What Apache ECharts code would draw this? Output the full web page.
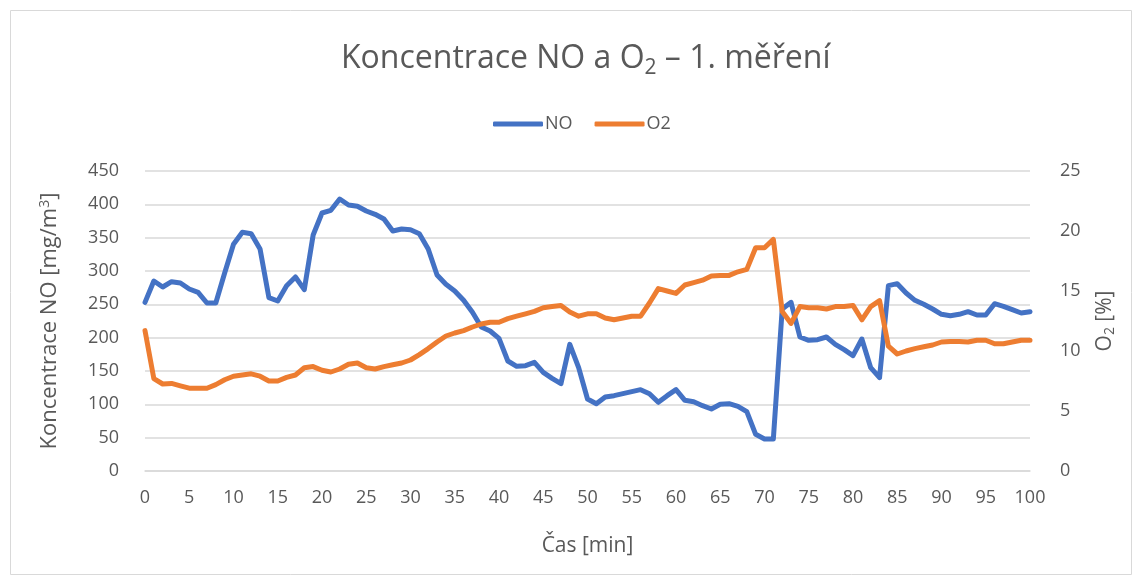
<!DOCTYPE html>
<html>
<head>
<meta charset="utf-8">
<script src="https://cdn.jsdelivr.net/npm/echarts@6/dist/echarts.min.js"></script>
<style>
html,body{margin:0;padding:0;background:#fff;}
#chart{width:1142px;height:582px;}
</style>
</head>
<body>
<div id="chart"></div>
<script>
const minutes = [0,1,2,3,4,5,6,7,8,9,10,11,12,13,14,15,16,17,18,19,20,21,22,23,24,25,26,27,28,29,30,31,32,33,34,35,36,37,38,39,40,41,42,43,44,45,46,47,48,49,50,51,52,53,54,55,56,57,58,59,60,61,62,63,64,65,66,67,68,69,70,71,72,73,74,75,76,77,78,79,80,81,82,83,84,85,86,87,88,89,90,91,92,93,94,95,96,97,98,99,100];

const noValues = [253,285,276,284,282,273,268,252,252,297,
  340,358,356,333,260,255,278,291,272,354,
  387,391,408,399,397,390,385,378,360,363,
  362,356,333,294,280,270,256,238,216,210,
  199,165,157,158,163,148,139,131,190,155,
  108,101,111,113,116,119,122,116,103,113,
  122,106,104,98,93,100,101,97,89,55,
  48,48,243,253,201,196,197,201,190,182,
  173,198,155,140,278,281,267,256,250,243,
  235,233,235,239,234,234,251,247,242,237,239];

const o2Values = [11.7,7.7,7.25,7.3,7.1,6.9,6.9,6.9,7.2,7.6,
  7.9,8.0,8.1,7.9,7.5,7.5,7.8,8.0,8.6,8.7,
  8.4,8.25,8.5,8.9,9.0,8.6,8.5,8.7,8.85,9.0,
  9.25,9.7,10.2,10.75,11.25,11.5,11.7,12.0,12.25,12.4,
  12.4,12.7,12.9,13.1,13.3,13.6,13.7,13.8,13.25,12.9,
  13.1,13.1,12.75,12.6,12.75,12.9,12.9,14.0,15.2,15.0,
  14.8,15.5,15.7,15.9,16.25,16.3,16.3,16.6,16.8,18.6,
  18.6,19.3,13.3,12.3,13.7,13.6,13.6,13.5,13.7,13.7,
  13.8,12.6,13.7,14.2,10.4,9.75,10.0,10.2,10.35,10.5,
  10.75,10.8,10.8,10.75,10.9,10.9,10.6,10.6,10.75,10.9,10.9];

const seriesNames = ['NO', 'O2'];
const titleText = 'Koncentrace NO a O{sub|2} – 1. měření';
const leftAxisName = 'Koncentrace NO [mg/m{sup|3}]';
const rightAxisName = 'O{sub|2} [%]';
const xAxisName = 'Čas [min]';

const FONT = 'Open Sans';
const TXT = '#595959';

const chart = echarts.init(document.getElementById('chart'), null, {renderer: 'canvas'});
chart.setOption({
  animation: false,
  textStyle: {fontFamily: FONT},
  graphic: [{
    type: 'rect', silent: true,
    shape: {x: 10.5, y: 10.5, width: 1121, height: 564},
    style: {fill: 'none', stroke: '#d9d9d9', lineWidth: 1}
  }],
  title: {
    text: titleText,
    left: 336,
    top: 34,
    textStyle: {
      fontFamily: FONT, fontSize: 32, fontWeight: 'normal', color: TXT,
      lineHeight: 40,
      rich: {
        sub: {fontFamily: FONT, fontSize: 21, color: TXT, verticalAlign: 'bottom', lineHeight: 40, padding: [13, 0, 0, 0]}
      }
    }
  },
  legend: {
    data: seriesNames,
    top: 110,
    left: 488,
    icon: 'roundRect',
    itemWidth: 50,
    itemHeight: 5,
    itemGap: 22,
    textStyle: {fontFamily: FONT, fontSize: 18, color: TXT, padding: [0, 0, 0, -3]}
  },
  grid: {left: 145, right: 112, top: 171, bottom: 111, containLabel: false},
  xAxis: {
    type: 'category',
    data: minutes,
    boundaryGap: false,
    name: xAxisName,
    nameLocation: 'middle',
    nameGap: 65,
    nameTextStyle: {fontFamily: FONT, fontSize: 21, color: TXT},
    axisLine: {show: true, lineStyle: {color: '#d9d9d9', width: 1.5}},
    axisTick: {show: false},
    axisLabel: {interval: 4, fontFamily: FONT, fontSize: 18, color: TXT, margin: 18},
    splitLine: {show: false}
  },
  yAxis: [{
    type: 'value',
    min: 0, max: 450, interval: 50,
    name: leftAxisName,
    nameLocation: 'middle',
    nameRotate: 90,
    nameGap: 84,
    nameTextStyle: {fontFamily: FONT, fontSize: 22, color: TXT,
      rich: {sup: {fontFamily: FONT, fontSize: 14, color: TXT, verticalAlign: 'top', padding: [0, 0, 9, 0]}}},
    axisLine: {show: false},
    axisTick: {show: false},
    axisLabel: {fontFamily: FONT, fontSize: 18, color: TXT, margin: 26},
    splitLine: {lineStyle: {color: '#d9d9d9', width: 1.5}}
  }, {
    type: 'value',
    min: 0, max: 25, interval: 5,
    name: rightAxisName,
    nameLocation: 'middle',
    nameRotate: 90,
    nameGap: 64,
    nameTextStyle: {fontFamily: FONT, fontSize: 21, color: TXT,
      rich: {sub: {fontFamily: FONT, fontSize: 14, color: TXT, verticalAlign: 'bottom', padding: [9, 0, 0, 0]}}},
    axisLine: {show: false},
    axisTick: {show: false},
    axisLabel: {fontFamily: FONT, fontSize: 18, color: TXT, margin: 30},
    splitLine: {show: false}
  }],
  series: [{
    name: seriesNames[0],
    type: 'line',
    yAxisIndex: 0,
    data: noValues,
    showSymbol: false,
    symbol: 'none',
    lineStyle: {color: '#4472C4', width: 5, join: 'round', cap: 'round'},
    itemStyle: {color: '#4472C4'},
    z: 3
  }, {
    name: seriesNames[1],
    type: 'line',
    yAxisIndex: 1,
    data: o2Values,
    showSymbol: false,
    symbol: 'none',
    lineStyle: {color: '#ED7D31', width: 5, join: 'round', cap: 'round'},
    itemStyle: {color: '#ED7D31'},
    z: 4
  }]
});
</script>
</body>
</html>
